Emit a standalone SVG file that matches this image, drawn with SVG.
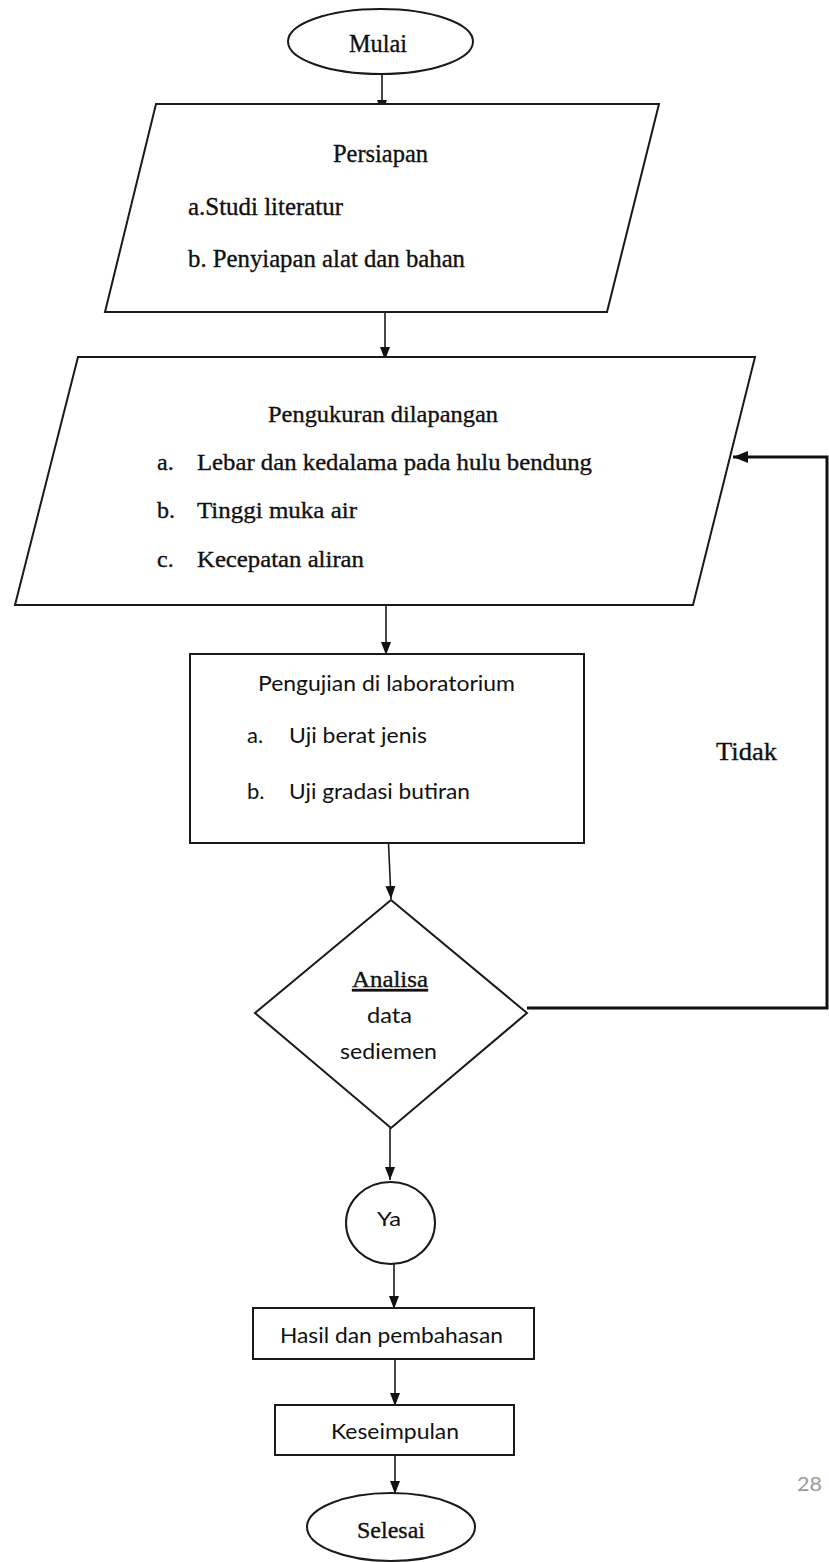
<svg xmlns="http://www.w3.org/2000/svg" width="829" height="1562" viewBox="0 0 829 1562">
<style>
.shape{fill:#fff;stroke:#1a1a1a;stroke-width:2}
.serif{font-family:"Liberation Serif","Times New Roman",serif;fill:#111;stroke:#111;stroke-width:0.35}
.sans{font-family:Lato,"Liberation Sans",sans-serif;fill:#111}
.conn{fill:none;stroke:#1a1a1a;stroke-width:1.6}
.fb{fill:none;stroke:#111;stroke-width:3}
</style>
<defs>
<marker id="ah" markerUnits="userSpaceOnUse" markerWidth="13" markerHeight="11" refX="13" refY="5.5" orient="auto">
<path d="M0,0.5 L13,5.5 L0,10.5 z" fill="#111"/>
</marker>
<marker id="ahb" markerUnits="userSpaceOnUse" markerWidth="16" markerHeight="14" refX="15" refY="7" orient="auto">
<path d="M0,1 L15,7 L0,13 z" fill="#111"/>
</marker>
</defs>
<rect width="829" height="1562" fill="#fff"/>

<g id="connectors">
<line class="conn" x1="382" y1="74" x2="382" y2="113" marker-end="url(#ah)"/>
<line class="conn" x1="385" y1="312" x2="385" y2="360" marker-end="url(#ah)"/>
<line class="conn" x1="386" y1="605" x2="386" y2="655" marker-end="url(#ah)"/>
<line class="conn" x1="388.5" y1="843" x2="391" y2="899" marker-end="url(#ah)"/>
<line class="conn" x1="390" y1="1128" x2="390" y2="1180" marker-end="url(#ah)"/>
<line class="conn" x1="394" y1="1264" x2="394" y2="1309" marker-end="url(#ah)"/>
<line class="conn" x1="395" y1="1359" x2="395" y2="1406" marker-end="url(#ah)"/>
<line class="conn" x1="395" y1="1455" x2="395" y2="1494" marker-end="url(#ah)"/>
<polyline class="fb" points="527,1008 827,1008 827,457 733,457" marker-end="url(#ahb)"/>
<text class="serif" x="716" y="760" font-size="26" textLength="61" lengthAdjust="spacingAndGlyphs">Tidak</text>
</g>

<g id="mulai">
<ellipse class="shape" cx="380.5" cy="41.5" rx="92.5" ry="32.5"/>
<text class="serif" x="349" y="52" font-size="25" textLength="58" lengthAdjust="spacingAndGlyphs">Mulai</text>
</g>

<g id="persiapan">
<polygon class="shape" points="156,104 659,104 607,312 105,312"/>
<text class="serif" x="333" y="162" font-size="25" textLength="95" lengthAdjust="spacingAndGlyphs">Persiapan</text>
<text class="serif" x="188" y="215" font-size="25" textLength="155" lengthAdjust="spacingAndGlyphs">a.Studi literatur</text>
<text class="serif" x="188" y="267" font-size="25" textLength="277" lengthAdjust="spacingAndGlyphs">b. Penyiapan alat dan bahan</text>
</g>

<g id="pengukuran">
<polygon class="shape" points="78,357 755,357 693,605 15,605"/>
<text class="serif" x="268" y="422" font-size="24" textLength="230" lengthAdjust="spacingAndGlyphs">Pengukuran dilapangan</text>
<text class="serif" x="157" y="470" font-size="24">a.</text>
<text class="serif" x="197" y="470" font-size="24" textLength="395" lengthAdjust="spacingAndGlyphs">Lebar dan kedalama pada hulu bendung</text>
<text class="serif" x="157" y="518" font-size="24">b.</text>
<text class="serif" x="197" y="518" font-size="24" textLength="160" lengthAdjust="spacingAndGlyphs">Tinggi muka air</text>
<text class="serif" x="157" y="567" font-size="24">c.</text>
<text class="serif" x="197" y="567" font-size="24" textLength="167" lengthAdjust="spacingAndGlyphs">Kecepatan aliran</text>
</g>

<g id="pengujian">
<rect class="shape" x="190" y="654" width="394" height="189"/>
<text class="sans" x="258" y="691" font-size="22" textLength="257" lengthAdjust="spacingAndGlyphs">Pengujian di laboratorium</text>
<text class="sans" x="247" y="743" font-size="22">a.</text>
<text class="sans" x="289" y="743" font-size="22" textLength="138" lengthAdjust="spacingAndGlyphs">Uji berat jenis</text>
<text class="sans" x="247" y="799" font-size="22">b.</text>
<text class="sans" x="289" y="799" font-size="22" textLength="181" lengthAdjust="spacingAndGlyphs">Uji gradasi butiran</text>
</g>

<g id="analisa">
<polygon class="shape" points="391,900 527,1013 391,1128 255,1013"/>
<text class="serif" x="352" y="987" font-size="24" textLength="76" lengthAdjust="spacingAndGlyphs" text-decoration="underline">Analisa</text>
<text class="sans" x="367" y="1023" font-size="22" textLength="45" lengthAdjust="spacingAndGlyphs">data</text>
<text class="sans" x="340" y="1059" font-size="22" textLength="97" lengthAdjust="spacingAndGlyphs">sediemen</text>
</g>

<g id="ya">
<ellipse class="shape" cx="390.5" cy="1223" rx="44.5" ry="41"/>
<text class="sans" x="377" y="1226" font-size="19" textLength="24" lengthAdjust="spacingAndGlyphs">Ya</text>
</g>

<g id="hasil">
<rect class="shape" x="253" y="1308" width="281" height="51"/>
<text class="sans" x="280" y="1343" font-size="21" textLength="223" lengthAdjust="spacingAndGlyphs">Hasil dan pembahasan</text>
</g>

<g id="kesimpulan">
<rect class="shape" x="275" y="1405" width="239" height="50"/>
<text class="sans" x="331" y="1439" font-size="21" textLength="128" lengthAdjust="spacingAndGlyphs">Keseimpulan</text>
</g>

<g id="selesai">
<ellipse class="shape" cx="391" cy="1527" rx="84" ry="34"/>
<text class="serif" x="357" y="1538" font-size="24" textLength="68" lengthAdjust="spacingAndGlyphs">Selesai</text>
</g>

<text class="sans" x="797" y="1491" font-size="20" style="fill:#999" textLength="25" lengthAdjust="spacingAndGlyphs">28</text>
</svg>
